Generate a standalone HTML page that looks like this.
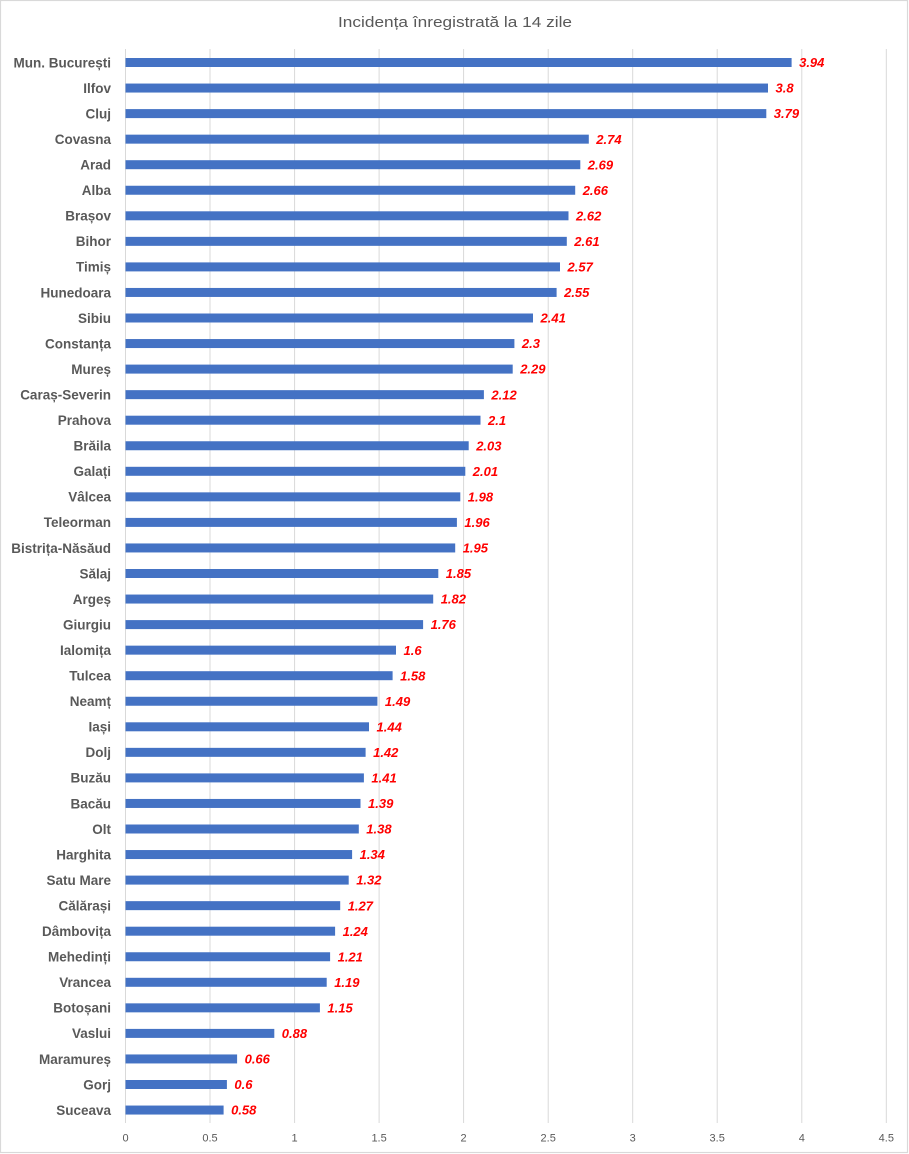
<!DOCTYPE html>
<html><head><meta charset="utf-8"><style>
html,body{margin:0;padding:0;background:#fff;}
svg{display:block;}
.c{font-family:"Liberation Sans",sans-serif;font-weight:bold;font-size:13.5px;fill:#595959;text-anchor:end;}
.v{font-family:"Liberation Sans",sans-serif;font-weight:bold;font-style:italic;font-size:13px;fill:#FF0000;}
.t{font-family:"Liberation Sans",sans-serif;font-size:11px;fill:#595959;text-anchor:middle;}
rect.b{fill:#4472C4;}
</style></head><body>
<svg width="909" height="1154" viewBox="0 0 909 1154" xmlns="http://www.w3.org/2000/svg">
<rect x="0.5" y="0.5" width="907" height="1152" fill="#fff" stroke="#D9D9D9" stroke-width="1.2"/>
<text x="455" y="27" font-family="Liberation Sans, sans-serif" font-size="15px" fill="#595959" text-anchor="middle" textLength="234" lengthAdjust="spacingAndGlyphs">Incidența  înregistrată la 14 zile</text>
<g stroke="#D9D9D9" stroke-width="1">
<line x1="125.5" y1="49" x2="125.5" y2="1123"/>
<line x1="210" y1="49" x2="210" y2="1123"/>
<line x1="294.6" y1="49" x2="294.6" y2="1123"/>
<line x1="379.1" y1="49" x2="379.1" y2="1123"/>
<line x1="463.6" y1="49" x2="463.6" y2="1123"/>
<line x1="548.2" y1="49" x2="548.2" y2="1123"/>
<line x1="632.7" y1="49" x2="632.7" y2="1123"/>
<line x1="717.2" y1="49" x2="717.2" y2="1123"/>
<line x1="801.8" y1="49" x2="801.8" y2="1123"/>
<line x1="886.3" y1="49" x2="886.3" y2="1123"/>
</g>
<g>
<text class="t" x="125.5" y="1141.5">0</text>
<text class="t" x="210" y="1141.5">0.5</text>
<text class="t" x="294.6" y="1141.5">1</text>
<text class="t" x="379.1" y="1141.5">1.5</text>
<text class="t" x="463.6" y="1141.5">2</text>
<text class="t" x="548.2" y="1141.5">2.5</text>
<text class="t" x="632.7" y="1141.5">3</text>
<text class="t" x="717.2" y="1141.5">3.5</text>
<text class="t" x="801.8" y="1141.5">4</text>
<text class="t" x="886.3" y="1141.5">4.5</text>
</g>

<g transform="translate(0,62.5)"><text class="c" x="111" y="4.8">Mun. București</text><rect class="b" x="125.5" y="-4.5" width="666.1" height="9"/><text class="v" x="799.1" y="4.6">3.94</text></g>
<g transform="translate(0,88.05)"><text class="c" x="111" y="4.8">Ilfov</text><rect class="b" x="125.5" y="-4.5" width="642.5" height="9"/><text class="v" x="775.5" y="4.6">3.8</text></g>
<g transform="translate(0,113.6)"><text class="c" x="111" y="4.8">Cluj</text><rect class="b" x="125.5" y="-4.5" width="640.8" height="9"/><text class="v" x="773.8" y="4.6">3.79</text></g>
<g transform="translate(0,139.15)"><text class="c" x="111" y="4.8">Covasna</text><rect class="b" x="125.5" y="-4.5" width="463.3" height="9"/><text class="v" x="596.3" y="4.6">2.74</text></g>
<g transform="translate(0,164.7)"><text class="c" x="111" y="4.8">Arad</text><rect class="b" x="125.5" y="-4.5" width="454.8" height="9"/><text class="v" x="587.8" y="4.6">2.69</text></g>
<g transform="translate(0,190.25)"><text class="c" x="111" y="4.8">Alba</text><rect class="b" x="125.5" y="-4.5" width="449.7" height="9"/><text class="v" x="582.7" y="4.6">2.66</text></g>
<g transform="translate(0,215.8)"><text class="c" x="111" y="4.8">Brașov</text><rect class="b" x="125.5" y="-4.5" width="443.0" height="9"/><text class="v" x="576.0" y="4.6">2.62</text></g>
<g transform="translate(0,241.35)"><text class="c" x="111" y="4.8">Bihor</text><rect class="b" x="125.5" y="-4.5" width="441.3" height="9"/><text class="v" x="574.3" y="4.6">2.61</text></g>
<g transform="translate(0,266.9)"><text class="c" x="111" y="4.8">Timiș</text><rect class="b" x="125.5" y="-4.5" width="434.5" height="9"/><text class="v" x="567.5" y="4.6">2.57</text></g>
<g transform="translate(0,292.45)"><text class="c" x="111" y="4.8">Hunedoara</text><rect class="b" x="125.5" y="-4.5" width="431.1" height="9"/><text class="v" x="564.1" y="4.6">2.55</text></g>
<g transform="translate(0,318)"><text class="c" x="111" y="4.8">Sibiu</text><rect class="b" x="125.5" y="-4.5" width="407.5" height="9"/><text class="v" x="540.5" y="4.6">2.41</text></g>
<g transform="translate(0,343.55)"><text class="c" x="111" y="4.8">Constanța</text><rect class="b" x="125.5" y="-4.5" width="388.9" height="9"/><text class="v" x="521.9" y="4.6">2.3</text></g>
<g transform="translate(0,369.1)"><text class="c" x="111" y="4.8">Mureș</text><rect class="b" x="125.5" y="-4.5" width="387.2" height="9"/><text class="v" x="520.2" y="4.6">2.29</text></g>
<g transform="translate(0,394.65)"><text class="c" x="111" y="4.8">Caraș-Severin</text><rect class="b" x="125.5" y="-4.5" width="358.4" height="9"/><text class="v" x="491.4" y="4.6">2.12</text></g>
<g transform="translate(0,420.2)"><text class="c" x="111" y="4.8">Prahova</text><rect class="b" x="125.5" y="-4.5" width="355.0" height="9"/><text class="v" x="488.0" y="4.6">2.1</text></g>
<g transform="translate(0,445.75)"><text class="c" x="111" y="4.8">Brăila</text><rect class="b" x="125.5" y="-4.5" width="343.2" height="9"/><text class="v" x="476.2" y="4.6">2.03</text></g>
<g transform="translate(0,471.3)"><text class="c" x="111" y="4.8">Galați</text><rect class="b" x="125.5" y="-4.5" width="339.8" height="9"/><text class="v" x="472.8" y="4.6">2.01</text></g>
<g transform="translate(0,496.85)"><text class="c" x="111" y="4.8">Vâlcea</text><rect class="b" x="125.5" y="-4.5" width="334.8" height="9"/><text class="v" x="467.8" y="4.6">1.98</text></g>
<g transform="translate(0,522.4)"><text class="c" x="111" y="4.8">Teleorman</text><rect class="b" x="125.5" y="-4.5" width="331.4" height="9"/><text class="v" x="464.4" y="4.6">1.96</text></g>
<g transform="translate(0,547.95)"><text class="c" x="111" y="4.8">Bistrița-Năsăud</text><rect class="b" x="125.5" y="-4.5" width="329.7" height="9"/><text class="v" x="462.7" y="4.6">1.95</text></g>
<g transform="translate(0,573.5)"><text class="c" x="111" y="4.8">Sălaj</text><rect class="b" x="125.5" y="-4.5" width="312.8" height="9"/><text class="v" x="445.8" y="4.6">1.85</text></g>
<g transform="translate(0,599.05)"><text class="c" x="111" y="4.8">Argeș</text><rect class="b" x="125.5" y="-4.5" width="307.7" height="9"/><text class="v" x="440.7" y="4.6">1.82</text></g>
<g transform="translate(0,624.6)"><text class="c" x="111" y="4.8">Giurgiu</text><rect class="b" x="125.5" y="-4.5" width="297.6" height="9"/><text class="v" x="430.6" y="4.6">1.76</text></g>
<g transform="translate(0,650.15)"><text class="c" x="111" y="4.8">Ialomița</text><rect class="b" x="125.5" y="-4.5" width="270.5" height="9"/><text class="v" x="403.5" y="4.6">1.6</text></g>
<g transform="translate(0,675.7)"><text class="c" x="111" y="4.8">Tulcea</text><rect class="b" x="125.5" y="-4.5" width="267.1" height="9"/><text class="v" x="400.1" y="4.6">1.58</text></g>
<g transform="translate(0,701.25)"><text class="c" x="111" y="4.8">Neamț</text><rect class="b" x="125.5" y="-4.5" width="251.9" height="9"/><text class="v" x="384.9" y="4.6">1.49</text></g>
<g transform="translate(0,726.8)"><text class="c" x="111" y="4.8">Iași</text><rect class="b" x="125.5" y="-4.5" width="243.5" height="9"/><text class="v" x="376.5" y="4.6">1.44</text></g>
<g transform="translate(0,752.35)"><text class="c" x="111" y="4.8">Dolj</text><rect class="b" x="125.5" y="-4.5" width="240.1" height="9"/><text class="v" x="373.1" y="4.6">1.42</text></g>
<g transform="translate(0,777.9)"><text class="c" x="111" y="4.8">Buzău</text><rect class="b" x="125.5" y="-4.5" width="238.4" height="9"/><text class="v" x="371.4" y="4.6">1.41</text></g>
<g transform="translate(0,803.45)"><text class="c" x="111" y="4.8">Bacău</text><rect class="b" x="125.5" y="-4.5" width="235.0" height="9"/><text class="v" x="368.0" y="4.6">1.39</text></g>
<g transform="translate(0,829)"><text class="c" x="111" y="4.8">Olt</text><rect class="b" x="125.5" y="-4.5" width="233.3" height="9"/><text class="v" x="366.3" y="4.6">1.38</text></g>
<g transform="translate(0,854.55)"><text class="c" x="111" y="4.8">Harghita</text><rect class="b" x="125.5" y="-4.5" width="226.6" height="9"/><text class="v" x="359.6" y="4.6">1.34</text></g>
<g transform="translate(0,880.1)"><text class="c" x="111" y="4.8">Satu Mare</text><rect class="b" x="125.5" y="-4.5" width="223.2" height="9"/><text class="v" x="356.2" y="4.6">1.32</text></g>
<g transform="translate(0,905.65)"><text class="c" x="111" y="4.8">Călărași</text><rect class="b" x="125.5" y="-4.5" width="214.7" height="9"/><text class="v" x="347.7" y="4.6">1.27</text></g>
<g transform="translate(0,931.2)"><text class="c" x="111" y="4.8">Dâmbovița</text><rect class="b" x="125.5" y="-4.5" width="209.6" height="9"/><text class="v" x="342.6" y="4.6">1.24</text></g>
<g transform="translate(0,956.75)"><text class="c" x="111" y="4.8">Mehedinți</text><rect class="b" x="125.5" y="-4.5" width="204.6" height="9"/><text class="v" x="337.6" y="4.6">1.21</text></g>
<g transform="translate(0,982.3)"><text class="c" x="111" y="4.8">Vrancea</text><rect class="b" x="125.5" y="-4.5" width="201.2" height="9"/><text class="v" x="334.2" y="4.6">1.19</text></g>
<g transform="translate(0,1007.85)"><text class="c" x="111" y="4.8">Botoșani</text><rect class="b" x="125.5" y="-4.5" width="194.4" height="9"/><text class="v" x="327.4" y="4.6">1.15</text></g>
<g transform="translate(0,1033.4)"><text class="c" x="111" y="4.8">Vaslui</text><rect class="b" x="125.5" y="-4.5" width="148.8" height="9"/><text class="v" x="281.8" y="4.6">0.88</text></g>
<g transform="translate(0,1058.95)"><text class="c" x="111" y="4.8">Maramureș</text><rect class="b" x="125.5" y="-4.5" width="111.6" height="9"/><text class="v" x="244.6" y="4.6">0.66</text></g>
<g transform="translate(0,1084.5)"><text class="c" x="111" y="4.8">Gorj</text><rect class="b" x="125.5" y="-4.5" width="101.4" height="9"/><text class="v" x="234.4" y="4.6">0.6</text></g>
<g transform="translate(0,1110.05)"><text class="c" x="111" y="4.8">Suceava</text><rect class="b" x="125.5" y="-4.5" width="98.1" height="9"/><text class="v" x="231.1" y="4.6">0.58</text></g>
</svg>
</body></html>
